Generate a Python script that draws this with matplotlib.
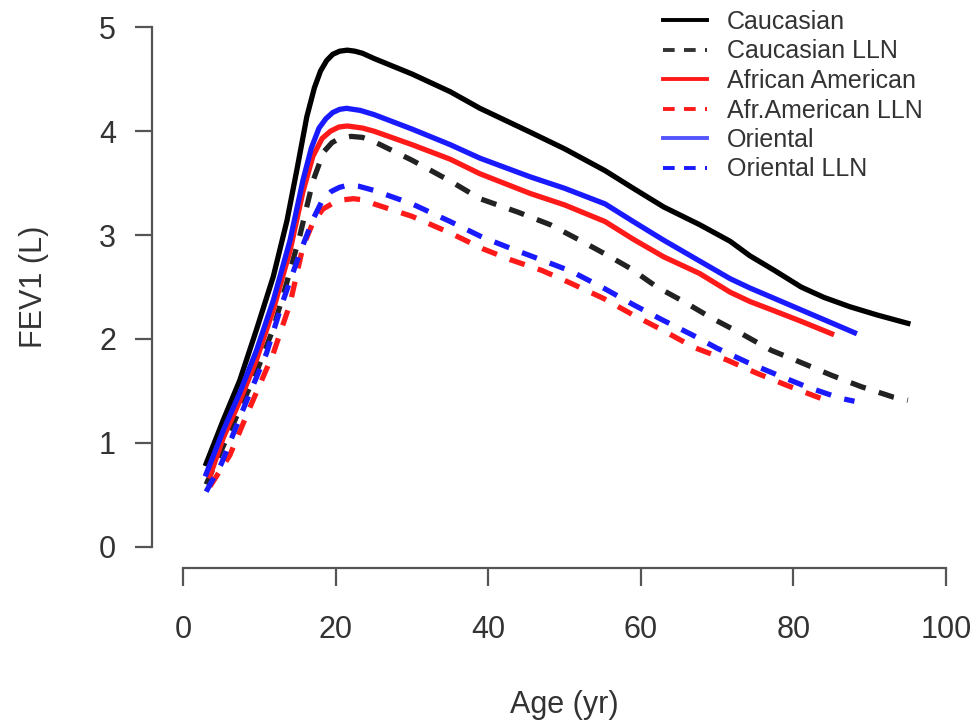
import matplotlib
matplotlib.use('Agg')
import matplotlib.pyplot as plt
from matplotlib.lines import Line2D

plt.rcParams['font.family'] = ['Liberation Sans', 'DejaVu Sans']

# FEV1 (L) by age for each group, mean curve and lower limit of normal
cauc_age = [3, 5.25, 7.4, 9.6, 11.8, 13.6, 14.9, 16.2, 17.2, 18, 18.8, 19.6, 20.5, 21.5, 22.5,
            23.5, 25, 30, 35, 38.9, 45.5, 50, 55.3, 59, 63, 67.7, 71.7, 74.3, 77.5, 81, 84,
            87.4, 91, 95]
cauc_fev = [0.80, 1.22, 1.60, 2.09, 2.60, 3.14, 3.63, 4.14, 4.42, 4.58, 4.68, 4.74, 4.77, 4.78,
            4.77, 4.75, 4.70, 4.55, 4.38, 4.22, 3.99, 3.83, 3.62, 3.45, 3.27, 3.10, 2.94, 2.80,
            2.66, 2.50, 2.40, 2.31, 2.23, 2.15]

cauc_lln_age = [3, 5.25, 7.4, 9.6, 11.8, 13.6, 15.3, 17, 18.4, 19.5, 20.5, 22, 23.5, 25, 30,
                35, 38.9, 43.9, 48.1, 52, 55.5, 58.6, 62.1, 65.6, 69.3, 73.2, 77.1, 81.1, 85,
                88.9, 93.1, 95]
cauc_lln_fev = [0.60, 0.97, 1.32, 1.68, 2.10, 2.55, 3.00, 3.52, 3.80, 3.89, 3.93, 3.95, 3.94,
                3.90, 3.72, 3.52, 3.35, 3.22, 3.10, 2.95, 2.81, 2.68, 2.50, 2.36, 2.20, 2.05,
                1.89, 1.77, 1.65, 1.54, 1.44, 1.41]

afr_age = [3.5, 5.25, 7.4, 9.6, 11.8, 14, 15.7, 17, 18.2, 19.3, 20.4, 21.5, 22.5, 23.5, 25,
           30, 35, 38.9, 45.5, 50, 55.3, 59, 63, 67.7, 71.7, 74.3, 77.5, 81, 85]
afr_fev = [0.68, 1.05, 1.40, 1.80, 2.28, 2.85, 3.42, 3.76, 3.93, 4.00, 4.04, 4.05, 4.04, 4.03,
           4.00, 3.87, 3.73, 3.59, 3.40, 3.29, 3.13, 2.96, 2.79, 2.63, 2.45, 2.36, 2.27, 2.17,
           2.05]

afr_lln_age = [3.5, 6.1, 8.5, 11.8, 14, 15.7, 17, 18.3, 19.7, 21, 22.3, 23.5, 25, 30, 35, 39.2,
               43, 47, 50.7, 55.1, 59, 62.7, 66.9, 71.2, 75.2, 78.9, 82.8, 85]
afr_lln_fev = [0.58, 0.88, 1.30, 1.86, 2.34, 2.89, 3.12, 3.25, 3.31, 3.34, 3.35, 3.34, 3.30,
               3.18, 3.02, 2.87, 2.76, 2.66, 2.54, 2.39, 2.23, 2.09, 1.92, 1.80, 1.67, 1.56,
               1.45, 1.39]

ori_age = [3, 5.25, 7.4, 9.6, 11.8, 14, 15.7, 16.8, 17.8, 18.7, 19.6, 20.5, 21.4, 22.3, 23.2,
           25, 30, 35, 38.9, 45.5, 50, 55.3, 59, 63, 67.7, 71.7, 74.3, 77.5, 81, 84.5, 88]
ori_fev = [0.70, 1.12, 1.48, 1.89, 2.37, 2.95, 3.53, 3.84, 4.03, 4.12, 4.18, 4.21, 4.22, 4.21,
           4.20, 4.16, 4.02, 3.87, 3.74, 3.56, 3.45, 3.30, 3.13, 2.95, 2.75, 2.58, 2.49, 2.39,
           2.28, 2.17, 2.06]

ori_lln_age = [3, 5, 8, 10.9, 13, 15.3, 17, 18.2, 19.4, 20.5, 21.6, 23, 25, 30, 35, 39.2, 43,
               47, 50.9, 55.1, 59, 62.9, 66.7, 70, 74.1, 78, 81.7, 86.1, 88]
ori_lln_fev = [0.53, 0.80, 1.35, 1.86, 2.35, 2.83, 3.15, 3.33, 3.42, 3.46, 3.48, 3.47, 3.43,
               3.30, 3.13, 2.98, 2.87, 2.76, 2.65, 2.49, 2.33, 2.18, 2.04, 1.91, 1.77, 1.65,
               1.54, 1.43, 1.40]

labels = ['Caucasian', 'Caucasian LLN', 'African American', 'Afr.American LLN',
          'Oriental', 'Oriental LLN']

W, H = 973, 727
fig = plt.figure(figsize=(W / 100, H / 100), dpi=100)
ax = fig.add_axes([152 / W, (H - 568) / H, (946 - 152) / W, (568 - 27.3) / H])

lw = 3.8
dash = (3.0, 2.6)
ax.plot(cauc_age, cauc_fev, color='black', lw=lw)
ax.plot(cauc_lln_age, cauc_lln_fev, color='#222222', lw=lw, dashes=dash)
ax.plot(afr_age, afr_fev, color='#ff1a1a', lw=lw)
ax.plot(afr_lln_age, afr_lln_fev, color='#ff1a1a', lw=lw, dashes=dash)
ax.plot(ori_age, ori_fev, color='#1a1aff', lw=lw)
ax.plot(ori_lln_age, ori_lln_fev, color='#1a1aff', lw=lw, dashes=dash)

ax.set_xlim(-4.1, 100)
ax.set_ylim(-0.205, 5.0)

axis_col = '#555555'
for s in ['top', 'right']:
    ax.spines[s].set_visible(False)
ax.spines['left'].set_bounds(0, 5)
ax.spines['bottom'].set_bounds(0, 100)
for s in ['left', 'bottom']:
    ax.spines[s].set_color(axis_col)
    ax.spines[s].set_linewidth(1.6)

ax.set_xticks([0, 20, 40, 60, 80, 100])
ax.set_yticks([0, 1, 2, 3, 4, 5])
ax.tick_params(axis='x', length=13, width=1.6, color=axis_col, pad=21,
               labelsize=22, labelcolor='#333333')
ax.tick_params(axis='y', length=12, width=1.6, color=axis_col, pad=14,
               labelsize=22, labelcolor='#333333')

fig.text(564 / W, 1 - 705 / H, 'Age (yr)', ha='center', va='center',
         fontsize=22, color='#333333')
fig.text(34 / W, 1 - 287 / H, 'FEV1 (L)', ha='center', va='center', rotation=90,
         fontsize=22, color='#333333')

handles = [
    Line2D([], [], color='black', lw=2.8),
    Line2D([], [], color='#333333', lw=2.8, dashes=(3.0, 2.4)),
    Line2D([], [], color='#ff1a1a', lw=2.8),
    Line2D([], [], color='#ff1a1a', lw=2.8, dashes=(3.0, 2.4)),
    Line2D([], [], color='#5555ff', lw=2.8),
    Line2D([], [], color='#1a1aff', lw=2.8, dashes=(3.0, 2.4)),
]
fig.legend(handles, labels, loc='upper left', bbox_to_anchor=(663 / W, 1 - 10 / H),
           frameon=False, fontsize=18, borderpad=0, borderaxespad=0,
           handlelength=1.76, handletextpad=0.8, labelspacing=0.22,
           labelcolor='#333333')

fig.savefig('out.png', dpi=100)
